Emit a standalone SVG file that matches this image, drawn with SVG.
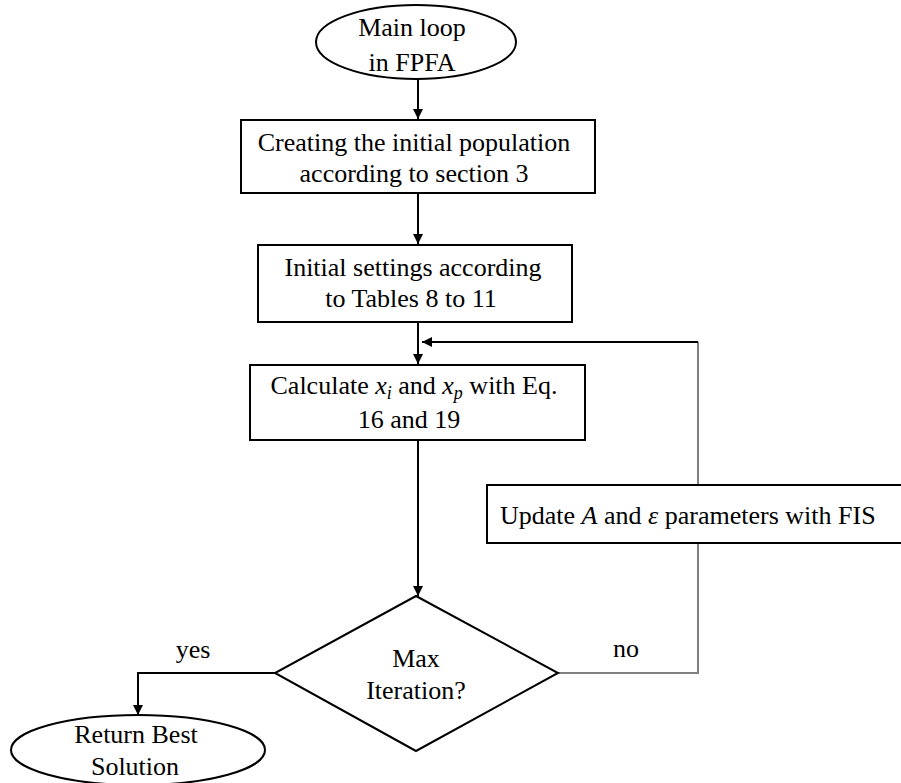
<svg xmlns="http://www.w3.org/2000/svg" width="901" height="783" viewBox="0 0 901 783">
<defs>
<marker id="a" viewBox="0 0 10 10" refX="10" refY="5" markerWidth="5" markerHeight="6" orient="auto" markerUnits="strokeWidth">
<path d="M0,0L10,5L0,10z" fill="#000"/>
</marker>
</defs>
<rect width="901" height="783" fill="#fff"/>
<g id="connectors" fill="none" stroke="#000" stroke-width="2">
<line x1="418" y1="79" x2="418" y2="119" marker-end="url(#a)"/>
<line x1="418" y1="194" x2="418" y2="244" marker-end="url(#a)"/>
<line x1="418" y1="322" x2="418" y2="364" marker-end="url(#a)"/>
<line x1="418" y1="441" x2="418" y2="596" marker-end="url(#a)"/>
<polyline points="275,673 138,673 138,715" marker-end="url(#a)"/>
<polyline points="558,673 698,673 698,342" stroke="#808080"/>
<line x1="698" y1="342" x2="422" y2="342" marker-end="url(#a)"/>
</g>
<g id="start">
<ellipse cx="416" cy="42" rx="100" ry="37" fill="#fff" stroke="#000" stroke-width="2"/>
<text x="412" y="36" text-anchor="middle" font-family="Liberation Serif" font-size="26">Main loop</text>
<text x="412" y="71" text-anchor="middle" font-family="Liberation Serif" font-size="26">in FPFA</text>
</g>
<g id="init-pop">
<rect x="241" y="120" width="354" height="73" fill="#fff" stroke="#000" stroke-width="2"/>
<text x="414" y="151" text-anchor="middle" font-family="Liberation Serif" font-size="26">Creating the initial population</text>
<text x="414" y="182" text-anchor="middle" font-family="Liberation Serif" font-size="26">according to section 3</text>
</g>
<g id="init-settings">
<rect x="258" y="245" width="314" height="77" fill="#fff" stroke="#000" stroke-width="2"/>
<text x="413" y="276" text-anchor="middle" font-family="Liberation Serif" font-size="26">Initial settings according</text>
<text x="411" y="307" text-anchor="middle" font-family="Liberation Serif" font-size="26">to Tables 8 to 11</text>
</g>
<g id="calculate">
<rect x="250" y="365" width="335" height="75" fill="#fff" stroke="#000" stroke-width="2"/>
<text x="414" y="394" text-anchor="middle" font-family="Liberation Serif" font-size="26">Calculate <tspan font-style="italic">x</tspan><tspan font-style="italic" font-size="18" dy="5">i</tspan><tspan dy="-5"> and </tspan><tspan font-style="italic">x</tspan><tspan font-style="italic" font-size="18" dy="5">p</tspan><tspan dy="-5"> with Eq.</tspan></text>
<text x="409" y="428" text-anchor="middle" font-family="Liberation Serif" font-size="26">16 and 19</text>
</g>
<g id="update">
<rect x="487" y="485" width="420" height="58" fill="#fff" stroke="#000" stroke-width="2"/>
<text x="500" y="524" font-family="Liberation Serif" font-size="26">Update <tspan font-style="italic">A</tspan> and <tspan font-style="italic">&#949;</tspan> parameters with FIS</text>
</g>
<g id="decision">
<polygon points="416,596 558,673 416,751 275,673" fill="#fff" stroke="#000" stroke-width="2"/>
<text x="416" y="667" text-anchor="middle" font-family="Liberation Serif" font-size="26">Max</text>
<text x="416" y="699" text-anchor="middle" font-family="Liberation Serif" font-size="26">Iteration?</text>
</g>
<g id="labels">
<text x="193" y="658" text-anchor="middle" font-family="Liberation Serif" font-size="26">yes</text>
<text x="626" y="657" text-anchor="middle" font-family="Liberation Serif" font-size="26">no</text>
</g>
<g id="end">
<ellipse cx="138" cy="750" rx="127" ry="35" fill="#fff" stroke="#000" stroke-width="2"/>
<text x="136" y="743" text-anchor="middle" font-family="Liberation Serif" font-size="26">Return Best</text>
<text x="135" y="775" text-anchor="middle" font-family="Liberation Serif" font-size="26">Solution</text>
</g>
</svg>
